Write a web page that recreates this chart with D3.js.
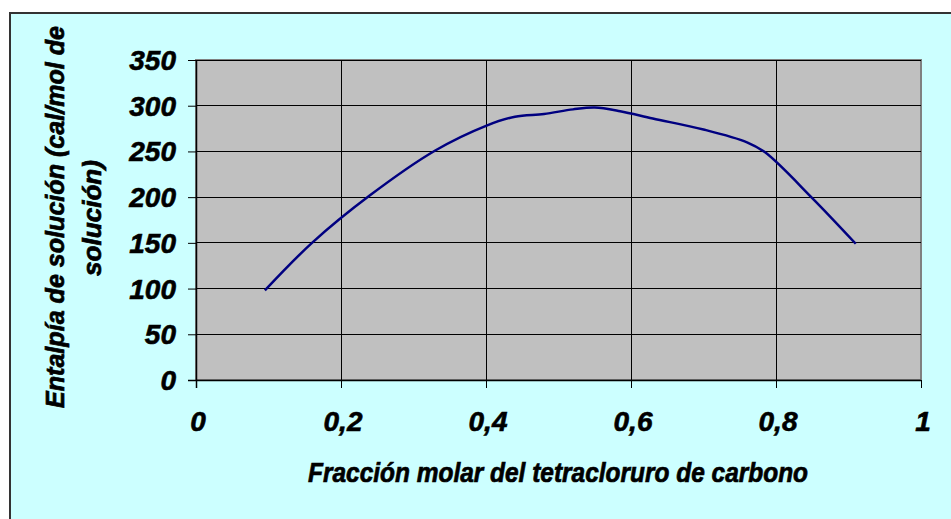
<!DOCTYPE html>
<html>
<head>
<meta charset="utf-8">
<script src="https://cdn.jsdelivr.net/npm/d3@7"></script>
<style>
  html, body { margin: 0; padding: 0; background: #fff; }
  svg { display: block; }
  .lbl { font-family: "Liberation Sans", Arial, sans-serif; font-weight: bold; font-style: italic; fill: #000; stroke: #000; stroke-width: 0.6px; }
  .ttl { font-family: "Liberation Sans", Arial, sans-serif; font-weight: bold; font-style: italic; fill: #000; stroke: #000; stroke-width: 0.7px; }
</style>
</head>
<body>
<svg id="chart" width="951" height="519"></svg>
<script>
// fraccion molar CCl4 vs entalpia
const fraccion = [0.095, 0.16, 0.24, 0.33, 0.40, 0.44, 0.48, 0.52, 0.55, 0.585, 0.63, 0.70, 0.76, 0.785, 0.85, 0.91];
const entalpia = [98, 150, 202, 251, 278, 288, 291, 296, 298, 294, 286, 274, 260, 249, 199, 149];
const xTicks = [0, 0.2, 0.4, 0.6, 0.8, 1];
const yTicks = [0, 50, 100, 150, 200, 250, 300, 350];
const xTitle = 'Fracción molar del tetracloruro de carbono';
const yTitle = ['Entalpía de solución (cal/mol de', 'solución)'];

const svg = d3.select('#chart');
const fmt = d => String(d).replace('.', ',');

// outer frame (runs past right/bottom edges)
svg.append('rect')
  .attr('x', 10).attr('y', 13)
  .attr('width', 960).attr('height', 520)
  .attr('fill', '#ccffff')
  .attr('stroke', '#333').attr('stroke-width', 2);

const x = d3.scaleLinear().domain([0, 1]).range([196, 921]);
const y = d3.scaleLinear().domain([0, 350]).range([380, 60]);

// plot area
svg.append('rect')
  .attr('x', x(0)).attr('y', y(350))
  .attr('width', x(1) - x(0)).attr('height', y(0) - y(350))
  .attr('fill', '#c0c0c0')
  .attr('stroke', '#808080').attr('stroke-width', 2);

// grid
svg.append('g').selectAll('line').data(yTicks.slice(1)).join('line')
  .attr('x1', x(0)).attr('x2', x(1))
  .attr('y1', d => y(d)).attr('y2', d => y(d))
  .attr('stroke', '#000').attr('stroke-width', 1).attr('shape-rendering', 'crispEdges');
svg.append('g').selectAll('line').data(xTicks.slice(1, -1)).join('line')
  .attr('x1', d => x(d)).attr('x2', d => x(d))
  .attr('y1', y(0)).attr('y2', y(350))
  .attr('stroke', '#000').attr('stroke-width', 1).attr('shape-rendering', 'crispEdges');

// axes
const xAxis = svg.append('g')
  .attr('transform', `translate(0,${y(0)})`)
  .call(d3.axisBottom(x).tickValues(xTicks).tickSize(8).tickFormat(''));
xAxis.select('.domain').attr('d', `M${x(0) - 8},0.5H${x(1)}`);
const yAxis = svg.append('g')
  .attr('transform', `translate(${x(0)},0)`)
  .call(d3.axisLeft(y).tickValues(yTicks).tickSize(8).tickFormat(''));
yAxis.select('.domain').attr('d', `M0.5,${y(0) + 8}V${y(350)}`);
svg.selectAll('.domain').attr('stroke', '#000').attr('stroke-width', 1.5);
svg.selectAll('.tick line').attr('stroke', '#000');

// tick labels
svg.append('g').selectAll('text').data(yTicks).join('text')
  .attr('class', 'lbl')
  .attr('x', 176).attr('y', d => y(d) + 10)
  .attr('text-anchor', 'end')
  .attr('font-size', 28)
  .text(d => d);
svg.append('g').selectAll('text').data(xTicks).join('text')
  .attr('class', 'lbl')
  .attr('x', d => x(d) + 2).attr('y', 431)
  .attr('text-anchor', 'middle')
  .attr('font-size', 28)
  .text(fmt);

// titles (condensed to the original's width)
svg.append('text')
  .attr('class', 'ttl')
  .attr('x', 308).attr('y', 482)
  .attr('font-size', 28)
  .attr('textLength', 500)
  .attr('lengthAdjust', 'spacingAndGlyphs')
  .text(xTitle);
const yLen = [382, 116];
const yStart = [408, 276];
svg.append('g').selectAll('text').data(yTitle).join('text')
  .attr('class', 'ttl')
  .attr('transform', (d, i) => `translate(${i === 0 ? 64 : 101},${yStart[i]}) rotate(-90)`)
  .attr('font-size', 25)
  .attr('textLength', (d, i) => yLen[i])
  .attr('lengthAdjust', 'spacingAndGlyphs')
  .text(d => d);

// curve
const pts = fraccion.map((f, i) => [f, entalpia[i]]);
svg.append('path')
  .datum(pts)
  .attr('fill', 'none')
  .attr('stroke', '#000080')
  .attr('stroke-width', 2.5)
  .attr('d', d3.line().x(d => x(d[0])).y(d => y(d[1])).curve(d3.curveCatmullRom.alpha(0.5)));
</script>
</body>
</html>
